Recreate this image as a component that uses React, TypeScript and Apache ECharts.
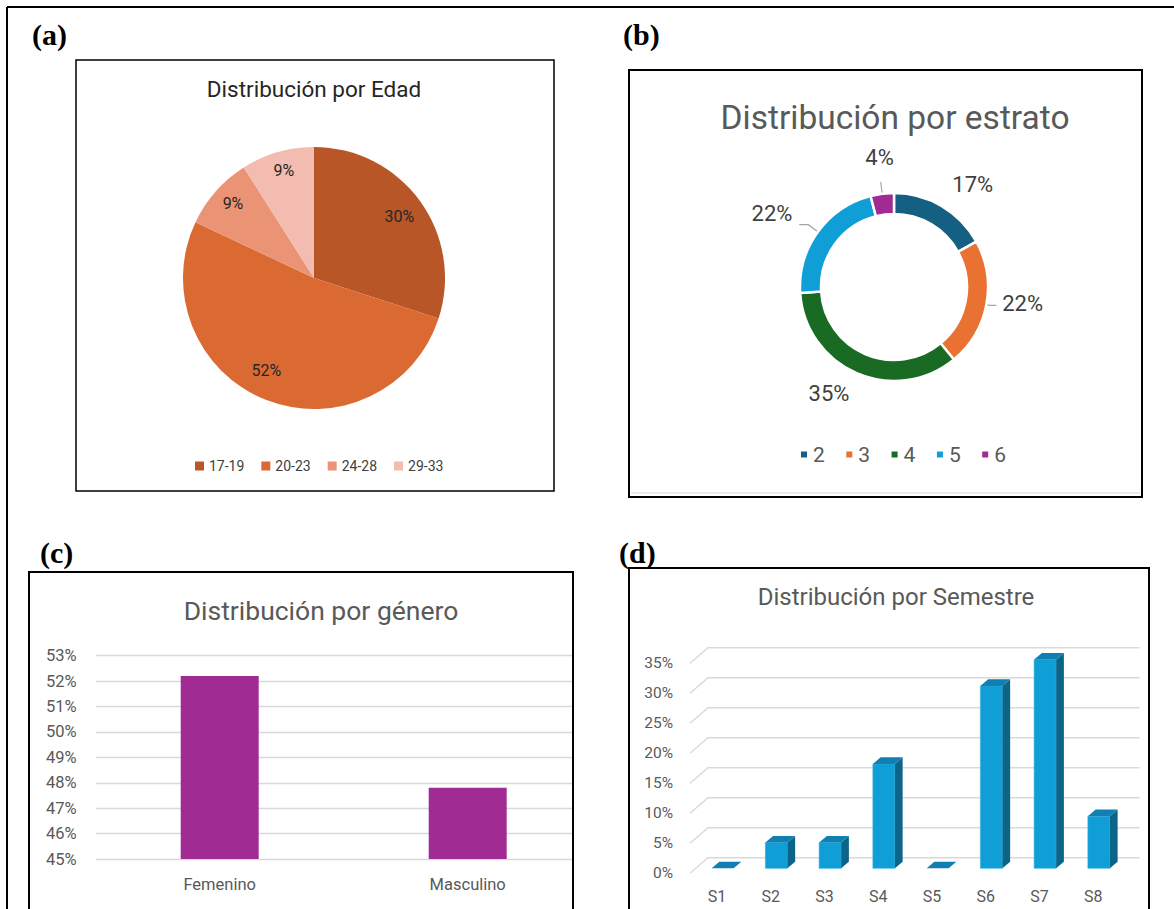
import { useEffect, useRef } from 'react';
import * as echarts from 'echarts';

// (a) age distribution
const ageGroups = ['17-19', '20-23', '24-28', '29-33'];
const agePercents = [30, 52, 9, 9];

// (b) socio-economic stratum
const strata = ['2', '3', '4', '5', '6'];
const strataPercents = [17, 22, 35, 22, 4];

// (c) gender
const genders = ['Femenino', 'Masculino'];
const genderPercents = [52.2, 47.8];
const genderAxisMin = 45;
const genderAxisMax = 53;

// (d) semester
const semesters = ['S1', 'S2', 'S3', 'S4', 'S5', 'S6', 'S7', 'S8'];
const semesterPercents = [0, 4.3, 4.3, 17.4, 0, 30.4, 34.8, 8.7];
const semesterTicks = [0, 5, 10, 15, 20, 25, 30, 35];

const NARROW = '"Liberation Sans Narrow", "Arial Narrow", Roboto, sans-serif';
const SANS = 'Roboto, "Liberation Sans", sans-serif';
const SERIF = '"Liberation Serif", "Times New Roman", serif';
const GREY = '#595959';
const GRID_GREY = '#D9D9D9';

const AGE_COLORS = ['#B85627', '#DA6A31', '#EB9375', '#F2BDB0'];
const STRATA_COLORS = ['#156082', '#E97132', '#196B24', '#0F9ED5', '#A02B93'];

// pseudo-3D depth of the semester chart (back wall offset)
const DEPTH_X = 18;
const DEPTH_Y = -15.5;

function buildOption(): echarts.EChartsCoreOption {
  const frame = (x: number, y: number, w: number, h: number, lw = 2) => ({
    type: 'rect',
    z: 60,
    silent: true,
    shape: { x, y, width: w, height: h },
    style: { fill: 'none', stroke: '#000', lineWidth: lw },
  });
  const panelTag = (text: string, x: number, y: number) => ({
    type: 'text',
    z: 60,
    x,
    y,
    style: {
      text,
      fill: '#000',
      fontFamily: SERIF,
      fontWeight: 'bold',
      fontSize: 30,
      align: 'left',
      verticalAlign: 'middle',
    },
  });
  const heading = (text: string, x: number, y: number, size: number, color: string, family: string) => ({
    type: 'text',
    z: 60,
    x,
    y,
    style: { text, fill: color, fontFamily: family, fontSize: size, align: 'center', verticalAlign: 'middle' },
  });

  const ageNudge = [[-2, 2], [-8, -8], [0, -3], [0, -4]];
  const strataNudge = [[12, 10], [0, -8], [-13, -14], [-16, 3], [2, 0]];

  return {
    animation: false,
    backgroundColor: '#fff',
    graphic: [
      // page frame
      {
        type: 'line',
        z: 60,
        shape: { x1: 7, y1: 7, x2: 1174, y2: 7 },
        style: { stroke: '#000', lineWidth: 2 },
      },
      {
        type: 'line',
        z: 60,
        shape: { x1: 7, y1: 7, x2: 7, y2: 909 },
        style: { stroke: '#000', lineWidth: 2 },
      },
      // cover for the gender plot area beyond its frame
      {
        type: 'rect',
        z: 55,
        silent: true,
        shape: { x: 574, y: 630, width: 53, height: 260 },
        style: { fill: '#fff' },
      },
      frame(76, 60, 478, 431, 1.5),
      frame(629, 70, 513, 427, 2),
      {
        type: 'line',
        z: 59,
        shape: { x1: 631, y1: 493, x2: 1140, y2: 493 },
        style: { stroke: GRID_GREY, lineWidth: 1 },
      },
      frame(29, 572, 544, 400, 2),
      frame(629, 568, 520, 400, 2),
      panelTag('(a)', 32, 34),
      panelTag('(b)', 623, 34),
      panelTag('(c)', 40, 552),
      panelTag('(d)', 619, 552),
      heading('Distribución por Edad', 314, 89, 22.5, '#262626', SANS),
      heading('Distribución por estrato', 895, 117, 33.5, GREY, NARROW),
      heading('Distribución por género', 321, 610, 26.5, GREY, NARROW),
      heading('Distribución por Semestre', 896, 597, 24, GREY, NARROW),
    ],
    legend: [
      {
        left: 190,
        top: 454,
        itemWidth: 9,
        itemHeight: 9,
        itemGap: 17,
        icon: 'rect',
        selectedMode: false,
        data: ageGroups,
        textStyle: { fontSize: 14, color: '#404040', fontFamily: SANS },
      },
      {
        left: 794,
        top: 439,
        itemWidth: 8,
        itemHeight: 8,
        itemGap: 19.5,
        icon: 'rect',
        selectedMode: false,
        data: strata,
        textStyle: { fontSize: 21, color: GREY, fontFamily: NARROW },
      },
    ],
    grid: [
      { left: 95.7, top: 655.7, width: 496, height: 203.3, outerBoundsMode: 'none' },
      { left: 690, top: 663.3, width: 430, height: 210, outerBoundsMode: 'none' },
    ],
    xAxis: [
      {
        type: 'category',
        gridIndex: 0,
        data: genders,
        axisLine: { show: false },
        axisTick: { show: false },
        axisLabel: { margin: 17, fontSize: 16.5, color: GREY, fontFamily: NARROW },
      },
      {
        type: 'category',
        gridIndex: 1,
        data: semesters,
        axisLine: { show: false },
        axisTick: { show: false },
        axisLabel: { margin: 15, fontSize: 16, color: GREY, fontFamily: NARROW },
      },
    ],
    yAxis: [
      {
        type: 'value',
        gridIndex: 0,
        min: genderAxisMin,
        max: genderAxisMax,
        interval: 1,
        axisLine: { show: false },
        axisTick: { show: false },
        splitLine: { lineStyle: { color: GRID_GREY, width: 1.3 } },
        axisLabel: { margin: 19, fontSize: 16.5, color: GREY, fontFamily: NARROW, formatter: '{value}%' },
      },
      {
        type: 'value',
        gridIndex: 1,
        min: semesterTicks[0],
        max: semesterTicks[semesterTicks.length - 1],
        interval: 5,
        axisLine: { show: false },
        axisTick: { show: false },
        splitLine: { show: false },
        axisLabel: { margin: 17, fontSize: 15.5, color: GREY, fontFamily: NARROW, formatter: '{value}%' },
      },
    ],
    series: [
      // (a) pie
      {
        type: 'pie',
        center: [314, 278],
        radius: [0, 131],
        startAngle: 90,
        clockwise: true,
        silent: true,
        label: { show: false },
        labelLine: { show: false },
        data: ageGroups.map((name, i) => ({
          name,
          value: agePercents[i],
          itemStyle: { color: AGE_COLORS[i] },
        })),
      },
      // (a) percentage labels
      {
        type: 'pie',
        center: [314, 278],
        radius: [79, 131],
        startAngle: 90,
        silent: true,
        avoidLabelOverlap: false,
        emphasis: { disabled: true },
        itemStyle: { color: 'rgba(0,0,0,0)' },
        label: {
          show: true,
          position: 'inside',
          formatter: '{c}%',
          fontSize: 16,
          color: '#262626',
          fontFamily: SANS,
        },
        labelLayout: (p: any) => ({ dx: ageNudge[p.dataIndex][0], dy: ageNudge[p.dataIndex][1] }),
        data: agePercents.map((value) => ({ value })),
      },
      // (b) doughnut with leader lines
      {
        type: 'pie',
        center: [894, 287],
        radius: [73, 94],
        startAngle: 90,
        silent: true,
        avoidLabelOverlap: false,
        itemStyle: { borderColor: '#fff', borderWidth: 2.5 },
        label: { show: true, formatter: ' ', fontSize: 8, color: 'rgba(0,0,0,0)' },
        labelLine: { show: true, lineStyle: { color: '#A6A6A6', width: 1.2 } },
        data: strata.map((name, i) => {
          const item: any = { name, value: strataPercents[i], itemStyle: { color: STRATA_COLORS[i] } };
          if (i === 0 || i === 2) {
            item.label = { show: false };
            item.labelLine = { show: false };
          } else if (i === 1) {
            item.labelLine = { length: 4, length2: 6 };
          } else if (i === 3) {
            item.labelLine = { length: 12, length2: 9 };
          } else {
            item.labelLine = { length: 12, length2: 0 };
          }
          return item;
        }),
      },
      // (b) percentage labels
      {
        type: 'pie',
        center: [894, 287],
        radius: [110, 146],
        startAngle: 90,
        silent: true,
        avoidLabelOverlap: false,
        emphasis: { disabled: true },
        itemStyle: { color: 'rgba(0,0,0,0)' },
        label: {
          show: true,
          position: 'inside',
          formatter: '{c}%',
          fontSize: 22,
          color: '#404040',
          fontFamily: NARROW,
        },
        labelLayout: (p: any) => ({ dx: strataNudge[p.dataIndex][0], dy: strataNudge[p.dataIndex][1] }),
        data: strataPercents.map((value) => ({ value })),
      },
      // (c) gender bars
      {
        type: 'bar',
        xAxisIndex: 0,
        yAxisIndex: 0,
        barWidth: 78,
        silent: true,
        itemStyle: { color: '#A02B93' },
        data: genderPercents,
      },
      // (d) back wall gridlines with floor diagonals
      {
        type: 'custom',
        xAxisIndex: 1,
        yAxisIndex: 1,
        silent: true,
        clip: false,
        z: 1,
        data: semesterTicks.map((v) => [0, v]),
        renderItem: (params: any, api: any) => {
          const cs = params.coordSys;
          const y = api.coord([0, api.value(1)])[1];
          return {
            type: 'polyline',
            shape: {
              points: [
                [cs.x, y],
                [cs.x + DEPTH_X, y + DEPTH_Y],
                [cs.x + cs.width + DEPTH_X + 1.5, y + DEPTH_Y],
              ],
            },
            style: { stroke: GRID_GREY, lineWidth: 1.4, fill: null },
          };
        },
      },
      // (d) pseudo-3D semester columns
      {
        type: 'custom',
        xAxisIndex: 1,
        yAxisIndex: 1,
        silent: true,
        clip: false,
        z: 3,
        data: semesterPercents.map((v, i) => [i, v]),
        renderItem: (_params: any, api: any) => {
          const i = api.value(0);
          const v = api.value(1);
          const base = api.coord([i, 0]);
          const top = api.coord([i, v]);
          const band = api.size([1, 0])[0];
          const w = band * 0.41;
          const fx = DEPTH_X * 0.32;
          const fy = DEPTH_Y * 0.32;
          const dx = DEPTH_X * 0.43;
          const dy = DEPTH_Y * 0.43;
          const xl = base[0] - w / 2 + fx;
          const xr = xl + w;
          const yb = base[1] + fy;
          const yt = top[1] + fy;
          const children: any[] = [];
          if (yb - yt > 0.5) {
            children.push({
              type: 'rect',
              shape: { x: xl, y: yt, width: w, height: yb - yt },
              style: { fill: '#0F9ED5', stroke: '#35B3E3', lineWidth: 0.6 },
            });
            children.push({
              type: 'polygon',
              shape: { points: [[xr, yt], [xr + dx, yt + dy], [xr + dx, yb + dy], [xr, yb]] },
              style: { fill: '#0B6589' },
            });
          }
          children.push({
            type: 'polygon',
            shape: { points: [[xl, yt], [xl + dx, yt + dy], [xr + dx, yt + dy], [xr, yt]] },
            style: { fill: '#117FB1' },
          });
          return { type: 'group', children };
        },
      },
    ],
  };
}

export default function App() {
  const ref = useRef<HTMLDivElement>(null);

  useEffect(() => {
    if (!ref.current) return;
    const chart = echarts.init(ref.current, undefined, { renderer: 'svg' });
    chart.setOption(buildOption());
    return () => chart.dispose();
  }, []);

  return (
    <div
      ref={ref}
      style={{ position: 'absolute', left: 0, top: 0, width: 1174, height: 909, background: '#fff' }}
    />
  );
}
